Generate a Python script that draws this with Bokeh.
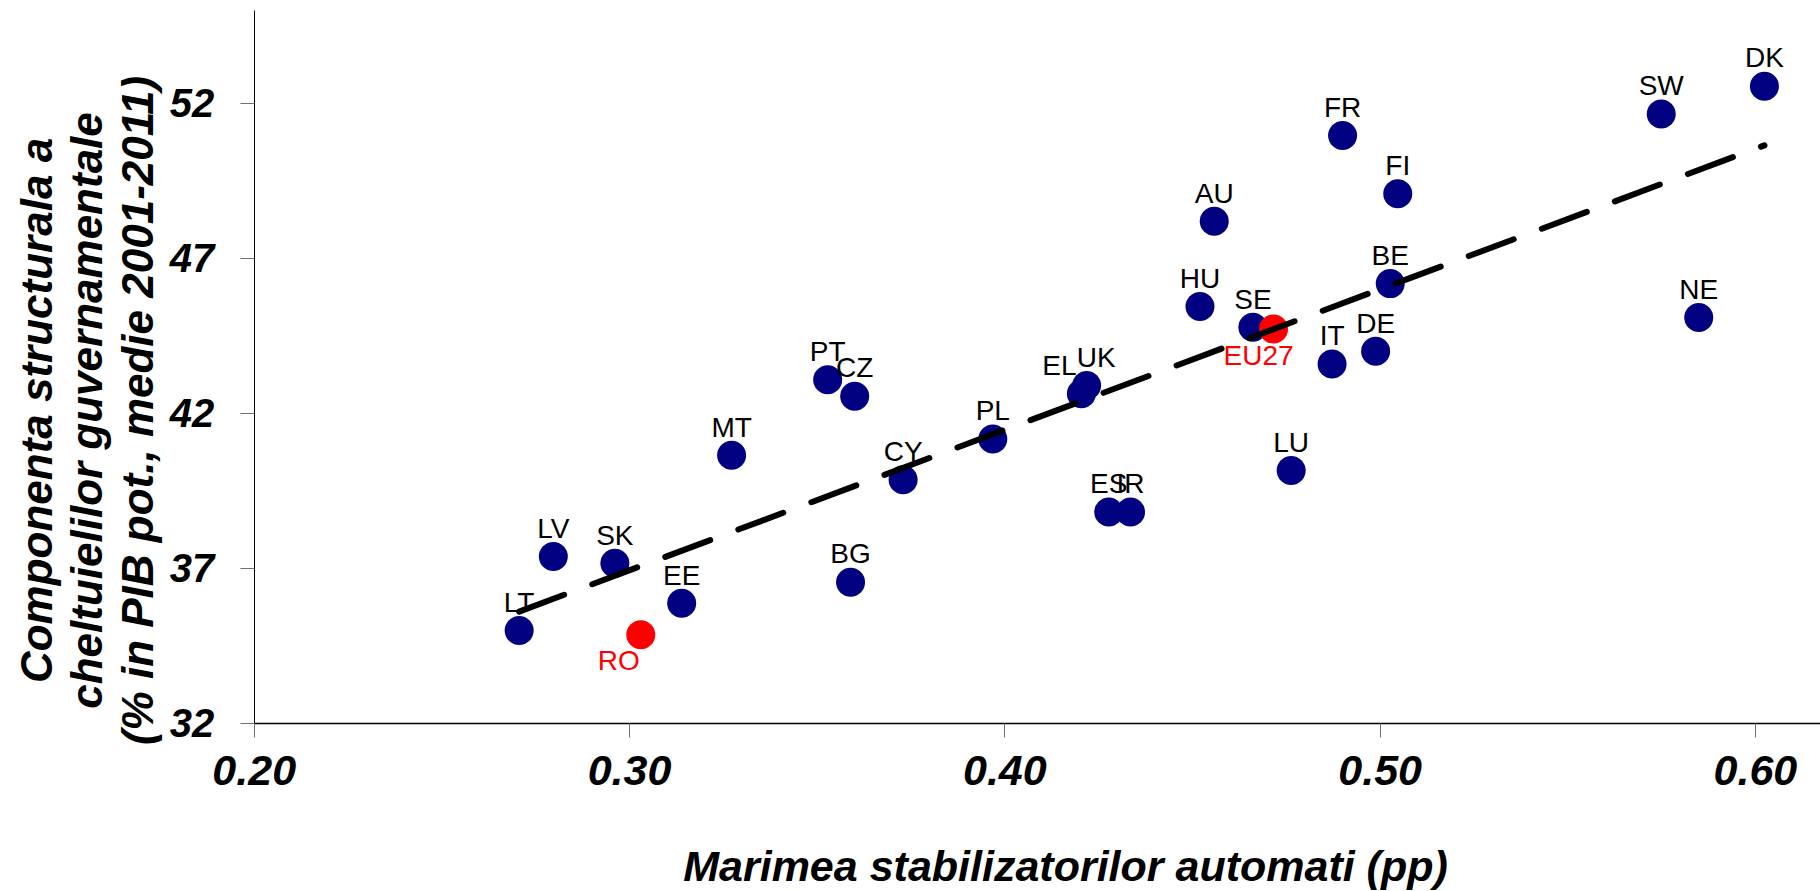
from bokeh.plotting import figure
from bokeh.models import Range1d, FixedTicker, NumeralTickFormatter, Label, ColumnDataSource
from bokeh.core.properties import value
from bokeh.embed import file_html
from bokeh.resources import INLINE

# ---------------- data ----------------
countries = ["LT", "LV", "SK", "EE", "MT", "PT", "CZ", "BG", "CY", "PL", "EL", "UK", "ES",
             "IR", "HU", "AU", "SE", "LU", "FR", "IT", "DE", "FI", "BE", "SW", "NE", "DK"]
stabilizers = [0.2706, 0.2797, 0.2961, 0.3139, 0.3272, 0.3528, 0.3600, 0.3589, 0.3729,
               0.3968, 0.4204, 0.4218, 0.4277, 0.4335, 0.4520, 0.4558, 0.4661, 0.4763,
               0.4900, 0.4872, 0.4988, 0.5047, 0.5027, 0.5749, 0.5849, 0.6024]
spending = [34.99, 37.38, 37.16, 35.87, 40.64, 43.08, 42.55, 36.55, 39.85,
            41.17, 42.63, 42.89, 38.81, 38.81, 45.44, 48.19, 44.77, 40.15,
            50.96, 43.59, 44.00, 49.08, 46.18, 51.65, 45.09, 52.55]

highlight_names = ["RO", "EU27"]
highlight_x = [0.3030, 0.4716]
highlight_y = [34.85, 44.72]

trend_x = [0.2706, 0.6024]
trend_y = [35.60, 50.64]

x_ticks = [0.20, 0.30, 0.40, 0.50, 0.60]
y_ticks = [32, 37, 42, 47, 52]
x_axis_span = (0.20, 0.6173)
y_axis_span = (32, 55)

x_title = "Marimea stabilizatorilor automati (pp)"
y_title_lines = ["Componenta structurala a",
                 "cheltuielilor guvernamentale",
                 "(% in PIB pot., medie 2001-2011)"]

# ---------------- label placement (style only) ----------------
label_shift = {"EL": -22, "UK": 9.5}
label_raise = -43.7
hl_dx = [-22, -15]
hl_dy = [10, 10.7]

FONT = "Liberation Sans"
NAVY = "#000080"
RED = "#FF0000"

W, H = 1820, 891
# the frame covers the whole canvas; the axes sit at fixed data locations
p = figure(width=W, height=H, output_backend="svg", toolbar_location=None,
           x_range=Range1d(0.13240, 0.61734), y_range=Range1d(26.571, 55.313),
           min_border_left=0, min_border_right=0, min_border_top=0, min_border_bottom=0)
p.outline_line_color = None
p.xgrid.visible = False
p.ygrid.visible = False
p.background_fill_color = "white"
p.border_fill_color = "white"

p.xaxis.fixed_location = y_axis_span[0]
p.yaxis.fixed_location = x_axis_span[0]
p.xaxis.bounds = x_axis_span
p.yaxis.bounds = y_axis_span
p.xaxis.ticker = FixedTicker(ticks=x_ticks)
p.yaxis.ticker = FixedTicker(ticks=y_ticks)
p.xaxis.formatter = NumeralTickFormatter(format="0.00")
p.yaxis.formatter = NumeralTickFormatter(format="0")
for ax in (p.xaxis, p.yaxis):
    ax.axis_line_color = "black"
    ax.major_tick_line_color = "#707070"
    ax.major_tick_line_width = 1
    ax.major_tick_in = 0
    ax.major_tick_out = 14
    ax.minor_tick_line_color = None
    ax.major_label_text_font = FONT
    ax.major_label_text_font_style = "bold italic"
    ax.major_label_text_color = "black"
p.xaxis.axis_line_width = 1.5
p.yaxis.axis_line_width = 1
p.xaxis.major_label_text_font_size = "43px"
p.yaxis.major_label_text_font_size = "40px"
p.xaxis.major_label_standoff = 19
p.yaxis.major_label_standoff = 26

# points
src = ColumnDataSource(dict(
    x=stabilizers, y=spending, name=countries,
    dx=[label_shift.get(c, 0) for c in countries],
    dy=[label_raise] * len(countries),
))
p.scatter("x", "y", source=src, size=29, fill_color=NAVY, line_color=NAVY, line_width=0)

hsrc = ColumnDataSource(dict(x=highlight_x, y=highlight_y, name=highlight_names,
                             dx=hl_dx, dy=hl_dy))
p.scatter("x", "y", source=hsrc, size=29, fill_color=RED, line_color=RED, line_width=0)

p.text("x", "y", text="name", source=src, x_offset="dx", y_offset="dy",
       text_align="center", text_baseline="top",
       text_font=value(FONT), text_font_size="28px", text_color="black")
p.text("x", "y", text="name", source=hsrc, x_offset="dx", y_offset="dy",
       text_align="center", text_baseline="top",
       text_font=value(FONT), text_font_size="28px", text_color=RED)

# trend line
p.line(trend_x, trend_y, line_color="black", line_width=6, line_dash="48 30", line_cap="round")

# titles (screen units: frame == whole canvas)
p.add_layout(Label(x=1065, y=H - 841.5, x_units="screen", y_units="screen", text=x_title,
                   text_align="center", text_baseline="top",
                   text_font=FONT, text_font_size="43px", text_font_style="bold italic",
                   text_color="black"))
for xs, line in zip([11.9, 61.2, 112.9], y_title_lines):
    p.add_layout(Label(x=xs, y=H - 410, x_units="screen", y_units="screen", text=line,
                       angle=90, angle_units="deg",
                       text_align="center", text_baseline="top",
                       text_font=FONT, text_font_size="44px", text_font_style="bold italic",
                       text_color="black"))

open("out.html", "w").write(file_html(p, INLINE))
